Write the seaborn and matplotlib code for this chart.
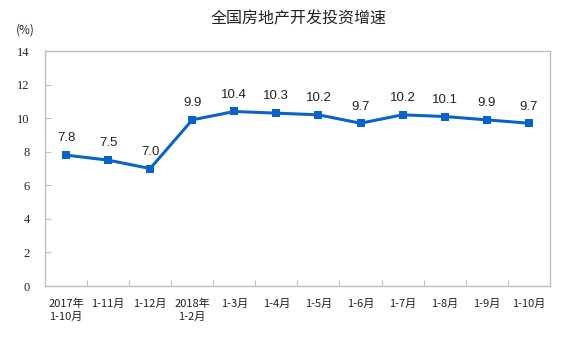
import matplotlib
matplotlib.use("Agg")
import matplotlib.pyplot as plt
import seaborn as sns
import pandas as pd
import numpy as np

categories = ["2017年\n1-10月", "1-11月", "1-12月", "2018年\n1-2月", "1-3月", "1-4月",
              "1-5月", "1-6月", "1-7月", "1-8月", "1-9月", "1-10月"]
values = [7.8, 7.5, 7.0, 9.9, 10.4, 10.3, 10.2, 9.7, 10.2, 10.1, 9.9, 9.7]
yticks = [0, 2, 4, 6, 8, 10, 12, 14]
title = "全国房地产开发投资增速"
unit = "(%)"

sns.set_theme(style="white")
plt.rcParams['font.family'] = ['Noto Sans CJK SC', 'DejaVu Sans']

df = pd.DataFrame({"cat": categories, "val": values})

fig = plt.figure(figsize=(5.8, 3.45), dpi=100)
ax = fig.add_axes([0.0776, 0.171, 0.8704, 0.681])

line_color = "#0A64C8"
sns.lineplot(data=df, x="cat", y="val", sort=False, ax=ax, color=line_color,
             linewidth=2.2, marker="s", markersize=5.5, markeredgewidth=0,
             markerfacecolor=line_color)

for i, v in enumerate(values):
    ax.annotate(f"{v:.1f}", (i, v), xytext=(0, 12), textcoords="offset points",
                ha="center", va="center", fontsize=9.5, color="#222222",
                family=["Liberation Sans", "DejaVu Sans"])

ax.set_xlim(-0.5, len(categories) - 0.5)
ax.set_ylim(0, 14)
ax.set_yticks(yticks)
ax.set_yticklabels([str(t) for t in yticks], family=["Liberation Serif"],
                   fontsize=9, color="#222222")
ax.set_xticks(range(len(categories)))
ax.set_xticklabels(categories, fontsize=8, color="#222222",
                   family=["Noto Sans CJK SC", "DejaVu Sans"], linespacing=1.4)
for lbl in ax.get_xticklabels():
    lbl.set_verticalalignment("top")
ax.set_xticks(np.arange(0.5, len(categories) - 0.5, 1), minor=True)
ax.tick_params(axis="x", which="major", length=0, pad=9)
ax.tick_params(axis="x", which="minor", length=4, direction="in", color="#BFBFBF", width=0.8, bottom=True)
ax.tick_params(axis="y", which="major", length=4, direction="in", color="#BFBFBF", width=0.8, left=True, pad=11)
ax.set_xlabel("")
ax.set_ylabel("")

for s in ax.spines.values():
    s.set_color("#BFBFBF")
    s.set_linewidth(1.0)
    s.set_visible(True)

fig.text(0.515, 0.945, title, ha="center", va="center", fontsize=11.5, color="#222222")
fig.text(0.043, 0.913, unit, ha="center", va="center", fontsize=8.5, color="#222222")

fig.savefig("out.png", dpi=100)
